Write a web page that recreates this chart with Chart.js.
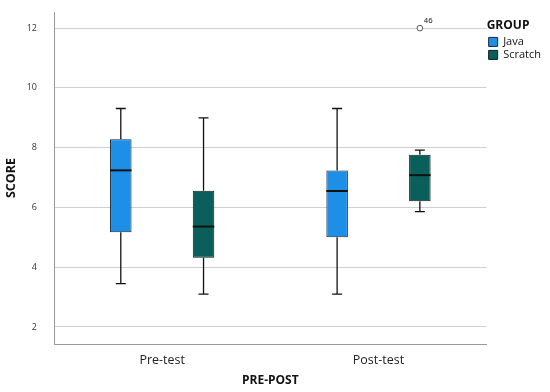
<!DOCTYPE html>
<html>
<head>
<meta charset="utf-8">
<script src="https://cdn.jsdelivr.net/npm/chart.js@4/dist/chart.umd.min.js"></script>
<style>
  html,body{margin:0;padding:0;background:#fff;}
  #wrap{width:550px;height:392px;position:relative;}
</style>
</head>
<body>
<div id="wrap"><canvas id="boxChart"></canvas></div>
<script>
// Box plot: SCORE by PRE-POST and GROUP
const categories = ['Pre-test','Post-test'];
const groups = ['Java','Scratch'];
const yTicks = [2,4,6,8,10,12];

const javaMin = [3.45, 3.1];
const javaQ1  = [5.17, 5.0];
const javaMed = [7.24, 6.55];
const javaQ3  = [8.28, 7.24];
const javaMax = [9.31, 9.31];

const scratchMin = [3.1, 5.86];
const scratchQ1  = [4.32, 6.21];
const scratchMed = [5.36, 7.08];
const scratchQ3  = [6.56, 7.76];
const scratchMax = [9.0, 7.92];

// outliers: dataset index, category index, value, case label
const outliers = [{ds:1, cat:1, value:12, label:'46'}];

const boxData = (q1,q3) => q1.map((v,i) => [v, q3[i]]);

// whiskers, medians and outliers drawn on top of the floating bars
const boxExtras = {
  id:'boxExtras',
  afterDatasetsDraw(chart){
    const ctx = chart.ctx, y = chart.scales.y;
    chart.data.datasets.forEach((ds,di) => {
      const meta = chart.getDatasetMeta(di);
      meta.data.forEach((bar,i) => {
        const x = bar.x, half = bar.width/2, cap = 5;
        const pMin = y.getPixelForValue(ds.whiskMin[i]);
        const pMax = y.getPixelForValue(ds.whiskMax[i]);
        const pQ1 = y.getPixelForValue(ds.data[i][0]);
        const pQ3 = y.getPixelForValue(ds.data[i][1]);
        const pMed = y.getPixelForValue(ds.median[i]);
        ctx.save();
        ctx.strokeStyle = '#111';
        ctx.lineWidth = 1.3;
        ctx.beginPath();
        ctx.moveTo(x, pQ3); ctx.lineTo(x, pMax);
        ctx.moveTo(x-cap, pMax); ctx.lineTo(x+cap, pMax);
        ctx.moveTo(x, pQ1); ctx.lineTo(x, pMin);
        ctx.moveTo(x-cap, pMin); ctx.lineTo(x+cap, pMin);
        ctx.stroke();
        ctx.lineWidth = 2;
        ctx.beginPath();
        ctx.moveTo(x-half, pMed); ctx.lineTo(x+half, pMed);
        ctx.stroke();
        ctx.restore();
      });
    });
    outliers.forEach(o => {
      const bar = chart.getDatasetMeta(o.ds).data[o.cat];
      const py = y.getPixelForValue(o.value);
      ctx.save();
      ctx.beginPath();
      ctx.arc(bar.x, py, 2.8, 0, Math.PI*2);
      ctx.fillStyle = '#fff';
      ctx.fill();
      ctx.strokeStyle = '#555';
      ctx.lineWidth = 1;
      ctx.stroke();
      ctx.fillStyle = '#222';
      ctx.font = '8px "Liberation Sans", Arial, sans-serif';
      ctx.textBaseline = 'middle';
      ctx.fillText(o.label, bar.x + 4, py - 7);
      ctx.restore();
    });
  }
};

new Chart(document.getElementById('boxChart'), {
  type:'bar',
  data:{
    labels: categories,
    datasets:[
      {label:groups[0], data:boxData(javaQ1,javaQ3), median:javaMed, whiskMin:javaMin, whiskMax:javaMax,
       backgroundColor:'#1e8fe6', borderColor:'#1a2a3a', borderWidth:1, borderSkipped:false},
      {label:groups[1], data:boxData(scratchQ1,scratchQ3), median:scratchMed, whiskMin:scratchMin, whiskMax:scratchMax,
       backgroundColor:'#0b5f5a', borderColor:'#0a1f1f', borderWidth:1, borderSkipped:false}
    ]
  },
  options:{
    responsive:true, maintainAspectRatio:false, animation:false,
    categoryPercentage:0.765, barPercentage:0.26,
    layout:{padding:{top:12, right:-1}},
    plugins:{
      tooltip:{enabled:false},
      legend:{
        position:'right', align:'start',
        title:{display:true, text:'GROUP', color:'#111', position:'start', padding:{top:8,bottom:0},
               font:{family:'"Open Sans", sans-serif', size:12, weight:'bold'}},
        labels:{boxWidth:9, boxHeight:9, padding:2, color:'#111',
                font:{family:'"Open Sans", sans-serif', size:11}}
      }
    },
    scales:{
      x:{
        grid:{display:false},
        border:{display:true, color:'#999'},
        ticks:{color:'#222', padding:1, font:{family:'"Open Sans", sans-serif', size:12.5}},
        title:{display:true, text:'PRE-POST', color:'#111', padding:{top:4,bottom:4},
               font:{family:'"Open Sans", sans-serif', size:12, weight:'bold'}},
        afterFit(s){ s.height = 48; }
      },
      y:{
        min:1.43, max:12.54,
        afterBuildTicks(s){ s.ticks = yTicks.map(v => ({value:v})); },
        grid:{color:'#cfcfcf', drawTicks:true, tickLength:14, tickColor:'rgba(0,0,0,0)'},
        border:{display:true, color:'#999'},
        ticks:{color:'#333', padding:3, font:{family:'"Open Sans", sans-serif', size:9}},
        title:{display:true, text:'SCORE', color:'#111', padding:{top:4,bottom:4},
               font:{family:'"Open Sans", sans-serif', size:12.5, weight:'bold'}},
        afterFit(s){ s.width = 54; }
      }
    }
  },
  plugins:[boxExtras]
});
</script>
</body>
</html>
